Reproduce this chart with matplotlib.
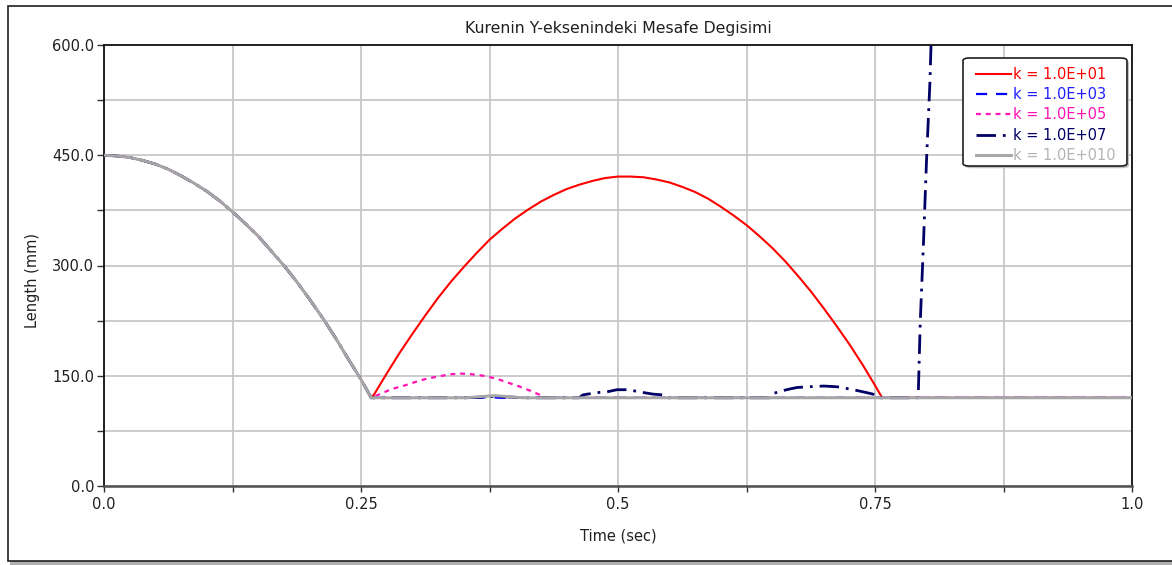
import matplotlib
matplotlib.use("Agg")
import matplotlib.pyplot as plt
from matplotlib.patches import Rectangle, FancyBboxPatch
from matplotlib.ticker import MultipleLocator, FixedLocator, FixedFormatter
import numpy as np

plt.rcParams['font.family'] = ['DejaVu Sans']

# Free fall from the release height down to the floor (shared by every k)
fall_t = [0.0, 0.0125, 0.025, 0.0375, 0.05, 0.0625, 0.075, 0.0875, 0.1, 0.1125, 0.125,
          0.1375, 0.15, 0.1625, 0.175, 0.1875, 0.2, 0.2125, 0.225, 0.2375, 0.25, 0.26]
fall_y = [450, 449, 447, 443, 438, 431, 422, 412, 401, 388, 373,
          357, 340, 320, 300, 278, 254, 229, 202, 173, 145, 120]

# k = 1.0E+01 : one large rebound
k1_t = [0.26, 0.2625, 0.275, 0.2875, 0.3, 0.3125, 0.325, 0.3375, 0.35, 0.3625, 0.375,
        0.3875, 0.4, 0.4125, 0.425, 0.4375, 0.45, 0.4625, 0.475, 0.4875, 0.5, 0.5125,
        0.525, 0.5375, 0.55, 0.5625, 0.575, 0.5875, 0.6, 0.6125, 0.625, 0.6375, 0.65,
        0.6625, 0.675, 0.6875, 0.7, 0.7125, 0.725, 0.7375, 0.75, 0.757, 1.0]
k1_y = [120, 124, 153, 181, 207, 232, 256, 278, 298, 317, 335,
        350, 364, 376, 387, 396, 404, 410, 415, 419, 421, 421,
        420, 417, 413, 407, 400, 391, 380, 368, 355, 340, 324,
        306, 286, 265, 242, 218, 193, 166, 137, 120, 120]

# k = 1.0E+03 : barely leaves the floor
k3_t = [0.26, 0.365, 0.375, 0.385, 1.0]
k3_y = [120, 120, 121, 120, 120]

# k = 1.0E+05 : small rebound
k5_t = [0.26, 0.27, 0.28, 0.293, 0.304, 0.314, 0.325, 0.337, 0.347, 0.358, 0.369,
        0.382, 0.392, 0.401, 0.414, 0.424, 0.43, 1.0]
k5_y = [120, 126, 132, 137, 142, 146, 149, 152, 153, 152, 150,
        146, 141, 137, 130, 124, 120, 120]

# k = 1.0E+07 : several small hops, then unstable blow-up
k7_t = [0.26, 0.351, 0.37, 0.38, 0.395, 0.41,
        0.462, 0.466, 0.479, 0.489, 0.499, 0.51, 0.521, 0.534, 0.543, 0.547,
        0.647, 0.651, 0.664, 0.674, 0.685, 0.70, 0.713, 0.729, 0.742, 0.748, 0.753,
        0.792, 0.794, 0.797, 0.800, 0.8035, 0.8045, 0.806]
k7_y = [120, 120, 121, 122, 121, 120,
        120, 124, 127, 128, 131, 131, 128, 125, 124, 120,
        120, 126, 131, 134, 135, 136, 135, 131, 127, 125, 120,
        120, 222, 325, 439, 552, 600, 680]

# k = 1.0E+010 : stays on the floor
k10_t = [0.26, 0.351, 0.37, 0.38, 0.39, 0.407, 1.0]
k10_y = [120, 120, 122, 123, 122, 120, 120]

labels = ['k = 1.0E+01', 'k = 1.0E+03', 'k = 1.0E+05', 'k = 1.0E+07', 'k = 1.0E+010']
colors = ['#ff0000', '#0000ff', '#ff14b4', '#000066', '#a6a6a6']
text_colors = ['#ff0000', '#2020ff', '#ff14b4', '#000066', '#b4b4b4']

fig = plt.figure(figsize=(11.72, 5.65), dpi=100)

# outer panel frame with a light shadow, kept behind the axes
fig.patches.append(Rectangle((10 / 1172, 1 - 565 / 565), 1.2, (565 - 8) / 565,
                             transform=fig.transFigure, facecolor='#b0b0b0',
                             edgecolor='none', zorder=-10))
fig.patches.append(Rectangle((8 / 1172, 1 - 561 / 565), 1.2, (561 - 6) / 565,
                             transform=fig.transFigure, facecolor='white',
                             edgecolor='#202020', linewidth=1.2, zorder=-9))

ax = fig.add_axes([104 / 1172, 1 - 486 / 565, 1028 / 1172, 441 / 565])

series = [(k1_t, k1_y), (k3_t, k3_y), (k5_t, k5_y), (k7_t, k7_y), (k10_t, k10_y)]
styles = ['-', (0, (5, 4)), (0, (2.2, 2.2)), (0, (7, 2.5, 1, 2.5)), '-']
widths = [1.5, 1.6, 1.6, 2.0, 2.1]

handles = []
for (t, y), c, ls, lw, lab in zip(series, colors, styles, widths, labels):
    tt = np.concatenate([fall_t, t[1:]])
    yy = np.concatenate([fall_y, y[1:]])
    h, = ax.plot(tt, yy, color=c, linestyle=ls, linewidth=lw, label=lab, zorder=3)
    handles.append(h)

ax.set_xlim(0, 1.0)
ax.set_ylim(0, 600)

ax.xaxis.set_major_locator(FixedLocator([0.0, 0.25, 0.5, 0.75, 1.0]))
ax.xaxis.set_major_formatter(FixedFormatter(['0.0', '0.25', '0.5', '0.75', '1.0']))
ax.xaxis.set_minor_locator(MultipleLocator(0.125))
ax.yaxis.set_major_locator(FixedLocator([0, 150, 300, 450, 600]))
ax.yaxis.set_major_formatter(FixedFormatter(['0.0', '150.0', '300.0', '450.0', '600.0']))
ax.yaxis.set_minor_locator(MultipleLocator(75))

ax.grid(True, which='both', color='#c8c8c8', linewidth=1.3, zorder=0)
ax.set_axisbelow(True)
ax.tick_params(which='both', direction='out', length=5, width=1, color='#303030',
               labelsize=10.5, labelcolor='#202020', pad=2)
ax.tick_params(axis='x', which='both', length=4, pad=4)

for s in ['left', 'top', 'right']:
    ax.spines[s].set_color('#101010')
    ax.spines[s].set_linewidth(1.3)
ax.spines['bottom'].set_color('#505050')
ax.spines['bottom'].set_linewidth(1.8)

ax.set_title('Kurenin Y-eksenindeki Mesafe Degisimi', fontsize=11.3, color='#202020', pad=9)
ax.set_xlabel('Time (sec)', fontsize=10.5, color='#202020', labelpad=12)
ax.set_ylabel('Length (mm)', fontsize=10.5, color='#202020')
ax.yaxis.set_label_coords(-0.062, 0.465)

# legend box: drawn as its own rounded panel with a soft shadow
box_x0, box_y0, box_w, box_h = 0.8356, 0.7256, 0.1595, 0.2449
ax.add_patch(FancyBboxPatch((box_x0 + 0.002, box_y0 - 0.005), box_w, box_h,
                            boxstyle='round,pad=0,rounding_size=0.006',
                            transform=ax.transAxes, facecolor='#c0c0c0',
                            edgecolor='none', zorder=5, clip_on=False))
ax.add_patch(FancyBboxPatch((box_x0, box_y0), box_w, box_h,
                            boxstyle='round,pad=0,rounding_size=0.006',
                            transform=ax.transAxes, facecolor='white',
                            edgecolor='#202020', linewidth=1.2, zorder=6, clip_on=False))

leg = ax.legend(handles=handles, loc='upper left', bbox_to_anchor=(0.848, 0.951),
                fontsize=10.5, handlelength=2.45, handletextpad=0.1, labelspacing=0.37,
                borderpad=0.0, borderaxespad=0.0, frameon=False)
for txt, c in zip(leg.get_texts(), text_colors):
    txt.set_color(c)
leg.set_zorder(7)

fig.savefig('out.png', dpi=100)
